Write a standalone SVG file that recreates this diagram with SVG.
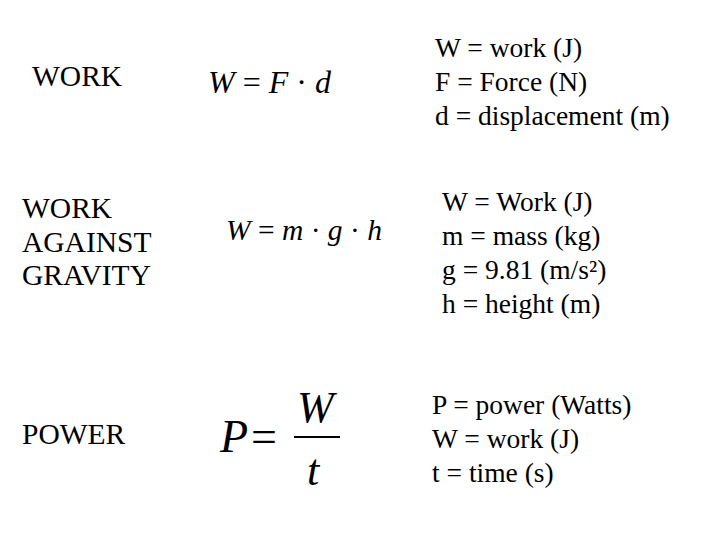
<svg xmlns="http://www.w3.org/2000/svg" width="720" height="540" viewBox="0 0 720 540">
<style>
text{font-family:"Liberation Serif","Times New Roman",serif;fill:#000}
.l{font-size:29.5px}
.d{font-size:27.5px}
.i{font-style:italic}
</style>
<rect width="720" height="540" fill="#fff"/>
<text class="l" x="32" y="86">WORK</text>
<text class="l" x="22" y="218">WORK</text>
<text class="l" x="22" y="252">AGAINST</text>
<text class="l" x="22" y="285">GRAVITY</text>
<text class="l" x="22" y="444">POWER</text>
<text font-size="32" x="208" y="93"><tspan class="i">W</tspan> = <tspan class="i">F</tspan> · <tspan class="i">d</tspan></text>
<text font-size="29.5" x="226" y="240"><tspan class="i">W</tspan> = <tspan class="i">m</tspan> · <tspan class="i">g</tspan> · <tspan class="i">h</tspan></text>
<text font-size="46" x="220" y="452"><tspan class="i">P</tspan><tspan dx="3">=</tspan></text>
<line x1="294" y1="437" x2="340" y2="437" stroke="#000" stroke-width="2"/>
<text class="i" font-size="44" x="297" y="422">W</text>
<text class="i" font-size="44" x="307" y="485">t</text>
<text class="d" x="435" y="57">W = work (J)</text>
<text class="d" x="435" y="91">F = Force (N)</text>
<text class="d" x="435" y="125">d = displacement (m)</text>
<text class="d" x="442" y="211">W = Work (J)</text>
<text class="d" x="442" y="245">m = mass (kg)</text>
<text class="d" x="442" y="279">g = 9.81 (m/s²)</text>
<text class="d" x="442" y="313">h = height (m)</text>
<text class="d" x="432" y="414">P = power (Watts)</text>
<text class="d" x="432" y="448">W = work (J)</text>
<text class="d" x="432" y="482">t = time (s)</text>
</svg>
